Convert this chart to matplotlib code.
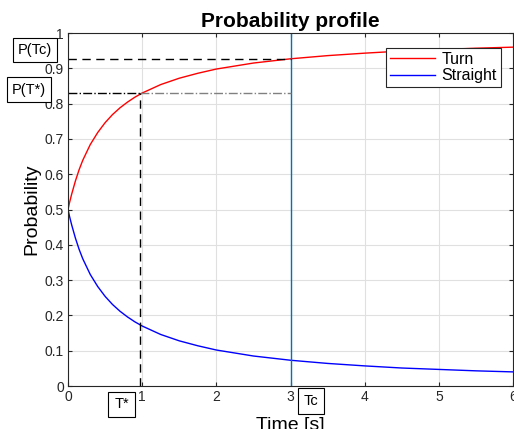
import matplotlib.pyplot as plt
import numpy as np

plt.rcParams['font.family'] = ['Liberation Sans', 'DejaVu Sans']

# values
time = [0, 0.02, 0.05, 0.1, 0.15, 0.2, 0.3, 0.4, 0.5, 0.6, 0.7, 0.8, 0.9,
        1.0, 1.25, 1.5, 1.75, 2, 2.5, 3, 3.5, 4, 4.5, 5, 5.5, 6]
turn = [0.5, 0.519, 0.544, 0.581, 0.613, 0.64, 0.684, 0.718, 0.746, 0.769,
        0.788, 0.804, 0.818, 0.83, 0.854, 0.872, 0.886, 0.898, 0.915, 0.927,
        0.936, 0.943, 0.949, 0.953, 0.957, 0.96]
straight = [0.5, 0.481, 0.456, 0.419, 0.387, 0.36, 0.316, 0.282, 0.254,
            0.231, 0.212, 0.196, 0.182, 0.17, 0.146, 0.128, 0.114, 0.102,
            0.085, 0.073, 0.064, 0.057, 0.051, 0.047, 0.043, 0.04]
t_star = 0.97
p_star = 0.83
t_c = 3.0
p_c = 0.927

fig = plt.figure(figsize=(5.14, 4.29), dpi=100)
ax = fig.add_axes([0.1323, 0.1002, 0.8658, 0.8228])

ax.plot(time, turn, color='red', lw=1, label='Turn')
ax.plot(time, straight, color='blue', lw=1, label='Straight')

ax.axvline(t_c, color=(0, 0.447, 0.741), lw=1)
ax.plot([0, t_c], [p_c, p_c], color='black', ls=(0, (6, 4)), lw=1)
ax.plot([0, t_star], [p_star, p_star], color='black', ls='-.', lw=1)
ax.plot([t_star, t_c], [p_star, p_star], color='grey', ls='-.', lw=1)
ax.plot([t_star, t_star], [0, p_star], color='black', ls=(0, (6, 4)), lw=1)

ax.set_xlim(0, 6)
ax.set_ylim(0, 1)
ax.set_xticks(range(7))
ax.set_yticks(np.arange(0, 1.01, 0.1))
ax.set_yticklabels(['0', '0.1', '0.2', '0.3', '0.4', '0.5', '0.6', '0.7',
                    '0.8', '0.9', '1'])
ax.grid(True, color=(0.88, 0.88, 0.88), lw=0.8)
ax.set_axisbelow(True)
ax.tick_params(direction='in', labelsize=10, colors=(0.15, 0.15, 0.15),
               top=True, right=True, length=3, pad=3)
for s in ax.spines.values():
    s.set_color((0.15, 0.15, 0.15))
    s.set_linewidth(0.8)

ax.set_title('Probability profile', fontsize=15, fontweight='bold', pad=4)
ax.set_xlabel('Time [s]', fontsize=14, labelpad=9)
ax.set_ylabel('Probability', fontsize=14, labelpad=3)

box = dict(boxstyle='square,pad=0.3', fc='white', ec='black', lw=0.8)
ax.text(-0.445, 0.953, 'P(Tc)', fontsize=10.5, ha='center', va='center',
        bbox=dict(box, boxstyle='square,pad=0.35'), clip_on=False)
ax.text(-0.526, 0.84, 'P(T*)', fontsize=10.5, ha='center', va='center',
        bbox=dict(box, boxstyle='square,pad=0.35'), clip_on=False)
ax.text(0.721, -0.052, 'T*', fontsize=10.5, ha='center', va='center',
        bbox=dict(box, boxstyle='square,pad=0.4'), clip_on=False)
ax.text(3.276, -0.042, 'Tc', fontsize=10.5, ha='center', va='center',
        bbox=dict(box, boxstyle='square,pad=0.4'), clip_on=False)

leg = ax.legend(loc='upper right', bbox_to_anchor=(0.972, 0.958), fontsize=11.5,
                fancybox=False, edgecolor=(0.15, 0.15, 0.15), framealpha=1,
                handlelength=2.8, borderpad=0.25, labelspacing=0.1,
                handletextpad=0.4, borderaxespad=0)
leg.get_frame().set_linewidth(0.8)

fig.savefig('out.png', dpi=100)
